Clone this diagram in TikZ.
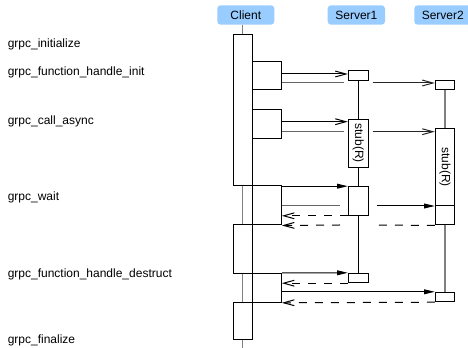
\documentclass[tikz,border=0pt]{standalone}
\usepackage{fontspec}
\setmainfont{Liberation Sans}
\usetikzlibrary{arrows.meta,fit}
\definecolor{hdr}{RGB}{153,204,255}
\definecolor{lifegray}{RGB}{128,128,128}
\begin{document}
\begin{tikzpicture}[x=0.75pt,y=-0.75pt,font=\fontsize{9}{11}\selectfont,
  box/.style={draw=black,fill=white,line width=0.75pt,inner sep=0pt},
  hdrbox/.style={fill=hdr,rounded corners=2.5pt,inner sep=0pt},
  lifeline/.style={draw=lifegray,line width=0.9pt},
  blackline/.style={draw=black,line width=0.75pt},
  call/.style={line width=0.75pt,-{Straight Barb[length=8pt,width=4.4pt]}},
  seg/.style={line width=0.75pt},
  fcall/.style={line width=0.75pt,-{Triangle[length=8pt,width=3.6pt]}},
  ret/.style={line width=0.75pt,dash pattern=on 6pt off 6pt,-{Straight Barb[length=8pt,width=4.4pt]}},
  retseg/.style={line width=0.75pt,dash pattern=on 6pt off 6pt},
  lbl/.style={anchor=west,inner sep=0pt},
  txt/.style={inner sep=0pt}]
\useasboundingbox (0,0) rectangle (468,348);
% headers
\node[hdrbox,fit={(217.3,5.3) (274.3,24.7)}] (client) {};
\node[txt] at (client.center) {Client};
\node[hdrbox,fit={(327.7,5.3) (385,24.7)}] (server1) {};
\node[txt] at (server1.center) {Server1};
\node[hdrbox,fit={(414.3,5.3) (471.3,24.7)}] (server2) {};
\node[txt] at (442.8,15) {Server2};
% labels
\node[lbl] (l1) at (7.5,44) {grpc\_initialize};
\node[lbl] (l2) at (7.5,72) {grpc\_function\_handle\_init};
\node[lbl] (l3) at (7.5,121) {grpc\_call\_async};
\node[lbl] (l4) at (7.5,197) {grpc\_wait};
\node[lbl] (l5) at (7.5,274) {grpc\_function\_handle\_destruct};
\node[lbl] (l6) at (7.5,340) {grpc\_finalize};
% client lifeline
\coordinate (ctop) at (242.7,24.7);
\coordinate (cbot) at (242.7,350);
\draw[lifeline] (ctop) -- (cbot);
% server boxes (names needed for lifelines)
\node[box,fit={(348.3,71) (368.3,80.7)}] (s1i) {};
\node[box,fit={(348.3,119.3) (368.3,167.3)}] (s1s) {};
\node[box,fit={(348.3,186.7) (368.3,215.3)}] (s1w) {};
\node[box,fit={(348.3,273.3) (368.3,282.7)}] (s1d) {};
\node[box,fit={(435.3,80.7) (454.7,90)}] (s2i) {};
\node[box,fit={(435.3,129) (454.7,225)}] (s2s) {};
\node[box,fit={(435.3,292.3) (454.7,301.7)}] (s2d) {};
% server lifelines
\draw[blackline] (s1i.south) -- (s1s.north);
\draw[blackline] (s1s.south) -- (s1w.north);
\draw[blackline] (s1w.south) -- (s1d.north);
\draw[lifeline] (s2i.south) -- (s2s.north);
\draw[lifeline] (s2s.south) -- (s2d.north);
% client activation boxes
\node[box,fit={(233.3,34.7) (252.3,186)}] (A) {};
\node[box,fit={(252.3,61.7) (281.3,90)}] (n1) {};
\node[box,fit={(252.3,109.3) (281.3,138.3)}] (n2) {};
\node[box,fit={(252.3,186) (281.3,225)}] (B) {};
\node[box,fit={(233.3,225) (252.3,273.3)}] (C) {};
\node[box,fit={(252.3,273.3) (281.3,302.3)}] (D) {};
\node[box,fit={(233.3,302.3) (252.3,340)}] (E) {};
% stub texts
\node[txt,rotate=-90] at (s1s.center) {stub(R)};
\node[txt,rotate=-90] at (445,167) {stub(R)};
% gap coordinates around server1
\coordinate (g1a) at (344,83);   \coordinate (g1b) at (372.7,83);
\coordinate (g2a) at (344,131.7); \coordinate (g2b) at (372.7,131.7);
\coordinate (g3a) at (340,206);  \coordinate (g3b) at (376.7,206);
\coordinate (g4a) at (340,225);  \coordinate (g4b) at (376.7,225);
% init
\draw[call] (n1.east |- 0,74) -- (s1i.west |- 0,74);
\draw[seg,draw=black!60] (n1.east |- g1a) -- (g1a);
\draw[call,draw=black!85] (g1b) -- (s2i.west |- g1b);
% call async
\draw[call] (n2.east |- 0,121.7) -- (s1s.west |- 0,121.7);
\draw[seg,draw=black!60] (n2.east |- g2a) -- (g2a);
\draw[call,draw=black!85] (g2b) -- (s2s.west |- g2b);
% wait
\draw[fcall] (B.east |- s1w.north) -- (s1w.north west);
\draw[seg,draw=black!60] (B.east |- g3a) -- (g3a);
\draw[fcall] (g3b) -- (s2s.west |- g3b);
\draw[seg] (s2s.west |- g3b) -- (s2s.east |- g3b);
\draw[ret] (s1w.south west) -- (B.east |- s1w.south);
\draw[retseg] (s2s.south west) -- (g4b);
\draw[ret] (g4a) -- (B.south east);
% destruct
\draw[fcall] (D.north east) -- (s1d.north west);
\draw[ret] (s1d.south west) -- (D.east |- s1d.south);
\draw[fcall] (D.east |- s2d.north) -- (s2d.north west);
\draw[ret] (s2d.south west) -- (D.south east);
\end{tikzpicture}
\end{document}
